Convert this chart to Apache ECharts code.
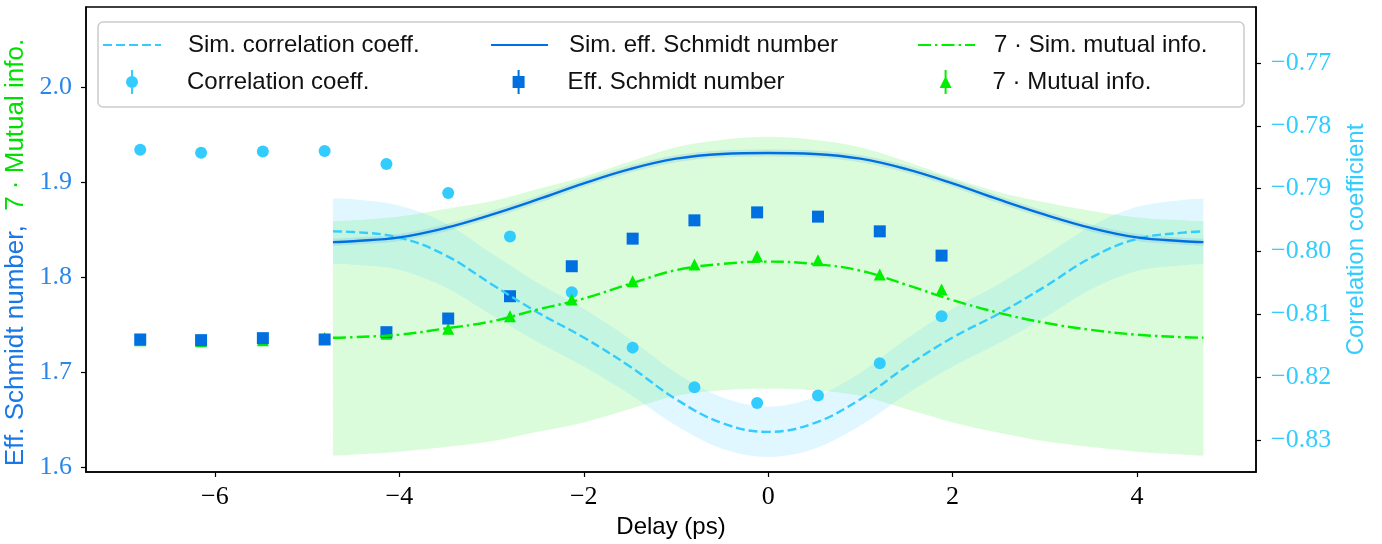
<!DOCTYPE html>
<html>
<head>
<meta charset="utf-8">
<script src="https://cdn.jsdelivr.net/npm/echarts@6/dist/echarts.min.js"></script>
<style>
  html, body { margin: 0; padding: 0; background: #fff; }
  #chart { width: 1382px; height: 544px; }
</style>
</head>
<body>
<div id="chart"></div>
<script>
// simulated curves (delay in ps)
var simX = [-4.72, -4.5, -4, -3.5, -3, -2.5, -2, -1.5, -1, -0.5, 0, 0.5, 1, 1.5, 2, 2.5, 3, 3.5, 4, 4.5, 4.72];
var simSchmidt = [1.837, 1.838, 1.842, 1.852, 1.866, 1.882, 1.899, 1.914, 1.925, 1.930, 1.931, 1.930, 1.925, 1.914, 1.899, 1.882, 1.866, 1.852, 1.842, 1.838, 1.837];
var simCorr = [-0.7968, -0.7969, -0.7978, -0.8006, -0.8052, -0.8097, -0.8137, -0.8183, -0.8235, -0.8273, -0.8287, -0.8273, -0.8235, -0.8183, -0.8137, -0.8099, -0.8056, -0.8010, -0.7980, -0.7970, -0.7968];
var simMutual = [1.7362, 1.7368, 1.7395, 1.7460, 1.7535, 1.7660, 1.7775, 1.7930, 1.8075, 1.8140, 1.8165, 1.8140, 1.8070, 1.7920, 1.7760, 1.7625, 1.7520, 1.7445, 1.7394, 1.7368, 1.7362];
// shaded uncertainty bands
var mutualHi = [1.859, 1.860, 1.864, 1.872, 1.880, 1.893, 1.906, 1.922, 1.937, 1.945, 1.948, 1.945, 1.937, 1.922, 1.905, 1.890, 1.879, 1.870, 1.863, 1.860, 1.859];
var mutualLo = [1.612, 1.613, 1.616, 1.621, 1.627, 1.637, 1.647, 1.661, 1.675, 1.681, 1.6825, 1.681, 1.675, 1.661, 1.647, 1.636, 1.627, 1.621, 1.616, 1.613, 1.612];
var corrHi = [-0.7916, -0.7917, -0.7927, -0.7955, -0.8003, -0.8050, -0.8091, -0.8139, -0.8193, -0.8232, -0.8247, -0.8232, -0.8193, -0.8139, -0.8091, -0.8052, -0.8007, -0.7960, -0.7929, -0.7918, -0.7916];
var corrLo = [-0.8020, -0.8021, -0.8029, -0.8057, -0.8101, -0.8144, -0.8183, -0.8227, -0.8277, -0.8314, -0.8327, -0.8314, -0.8277, -0.8227, -0.8183, -0.8146, -0.8105, -0.8060, -0.8031, -0.8022, -0.8020];

// measured points
var measX = [-6.81, -6.15, -5.48, -4.81, -4.14, -3.47, -2.80, -2.13, -1.47, -0.80, -0.12, 0.54, 1.21, 1.88];
var corrMeas = [-0.7838, -0.7843, -0.7841, -0.7840, -0.7861, -0.7907, -0.7976, -0.8065, -0.8153, -0.8216, -0.8241, -0.8229, -0.8178, -0.8103];
var schmidtMeas = [1.7344, 1.7337, 1.7358, 1.7344, 1.7421, 1.7565, 1.7800, 1.8116, 1.8407, 1.8600, 1.8684, 1.8639, 1.8484, 1.8228];
var mutualMeas = [1.7335, 1.7325, 1.7335, 1.7360, 1.7405, 1.7457, 1.7589, 1.7765, 1.7958, 1.8134, 1.8221, 1.8179, 1.8028, 1.7871];

// ticks
var xTicks = [-6, -4, -2, 0, 2, 4];
var leftTicks = [1.6, 1.7, 1.8, 1.9, 2.0];
var rightTicks = [-0.83, -0.82, -0.81, -0.80, -0.79, -0.78, -0.77];

var cCorr = '#33ccff', cSchmidt = '#0070e0', cMutual = '#00ee00';
var serif = 'Liberation Serif', sans = 'Liberation Sans';

function pairs(xs, ys) {
  return xs.map(function (x, i) { return [x, ys[i]]; });
}
function fmt(v, d) {
  return (v < 0 ? '\u2212' : '') + Math.abs(v).toFixed(d);
}

// smooth curve through pixel points (catmull-rom as bezier)
function curvePath(p, first) {
  var s = (first ? 'M' : 'L') + p[0][0] + ' ' + p[0][1];
  for (var i = 0; i < p.length - 1; i++) {
    var a = p[i - 1] || p[i], b = p[i], c = p[i + 1], d = p[i + 2] || c;
    s += 'C' + (b[0] + (c[0] - a[0]) / 6) + ' ' + (b[1] + (c[1] - a[1]) / 6) + ' ' +
      (c[0] - (d[0] - b[0]) / 6) + ' ' + (c[1] - (d[1] - b[1]) / 6) + ' ' + c[0] + ' ' + c[1];
  }
  return s;
}
// fill_between
function band(yIdx, lo, hi, color) {
  return {
    type: 'custom', yAxisIndex: yIdx, silent: true, data: [0],
    renderItem: function (params, api) {
      var top = simX.map(function (x, i) { return api.coord([x, hi[i]]); });
      var bot = simX.map(function (x, i) { return api.coord([x, lo[i]]); }).reverse();
      return {
        type: 'path',
        shape: { pathData: curvePath(top, true) + curvePath(bot, false) + 'Z' },
        style: { fill: color }
      };
    }
  };
}

var errCircle = 'path://M5 0h2v24h-2z M0 12a6 6 0 1 1 12 0a6 6 0 1 1 -12 0z';
var errSquare = 'path://M5 0h2v24h-2z M0 6h12v12h-12z';
var errTri = 'path://M5 0h2v24h-2z M6 6L12 18L0 18z';

function legendItem(name, left, top, w, h, pad, icon) {
  var d = { name: name };
  if (icon) d.icon = icon;
  var l = {
    data: [d], left: left, top: top, padding: 0, itemWidth: w, itemHeight: h,
    selectedMode: false,
    textStyle: { fontFamily: sans, fontSize: 24, color: '#111', padding: [0, 0, 0, pad] }
  };
  // line handles: hide the symbol drawn in the middle
  if (!icon) l.itemStyle = { color: 'rgba(0,0,0,0)', borderWidth: 0, opacity: 0 };
  return l;
}

var chart = echarts.init(document.getElementById('chart'));
var option = {
  animation: false,
  grid: { left: 86, right: 126, top: 7, bottom: 72, outerBoundsMode: 'none',
    show: true, borderColor: '#000', borderWidth: 1.5 },
  xAxis: {
    type: 'value', min: -7.398, max: 5.29,
    name: 'Delay (ps)', nameLocation: 'middle', nameGap: 38,
    nameTextStyle: { fontFamily: sans, fontSize: 24, color: '#000' },
    axisLine: { show: true, onZero: false, lineStyle: { color: '#000', width: 1.5 } },
    axisTick: { show: true, length: 5, customValues: xTicks, lineStyle: { color: '#000', width: 1.2 } },
    axisLabel: { customValues: xTicks, margin: 12, fontFamily: serif, fontSize: 26, color: '#000',
      formatter: function (v) { return fmt(v, 0); } },
    splitLine: { show: false }
  },
  yAxis: [{
    type: 'value', min: 1.5947, max: 2.0849, position: 'left',
    name: '{a|Eff. Schmidt number,}  {b|7 \u00b7 Mutual info.}',
    nameLocation: 'middle', nameRotate: 90, nameGap: 50,
    nameTextStyle: {
      fontFamily: sans, fontSize: 26, padding: [0, 26, 0, 0],
      rich: {
        a: { fontFamily: sans, fontSize: 26, color: '#1a78e6' },
        b: { fontFamily: sans, fontSize: 26, color: '#00e000' }
      }
    },
    axisLine: { show: true, onZero: false, lineStyle: { color: '#000', width: 1.5 } },
    axisTick: { show: true, length: 5, customValues: leftTicks, lineStyle: { color: '#000', width: 1.2 } },
    axisLabel: { customValues: leftTicks, margin: 14, fontFamily: serif, fontSize: 26, color: '#2a86ea',
      formatter: function (v) { return fmt(v, 1); } },
    splitLine: { show: false }
  }, {
    type: 'value', min: -0.83509, max: -0.76110, position: 'right',
    name: 'Correlation coefficient', nameLocation: 'middle', nameRotate: 90, nameGap: 88,
    nameTextStyle: { fontFamily: sans, fontSize: 24, color: cCorr },
    axisLine: { show: true, onZero: false, lineStyle: { color: '#000', width: 1.5 } },
    axisTick: { show: true, length: 5, customValues: rightTicks, lineStyle: { color: '#000', width: 1.2 } },
    axisLabel: { customValues: rightTicks, margin: 15, fontFamily: serif, fontSize: 26, color: cCorr,
      formatter: function (v) { return fmt(v, 2); } },
    splitLine: { show: false }
  }],
  legend: [
    legendItem('Sim. correlation coeff.', 102, 33, 58, 14, 22),
    legendItem('Correlation coeff.', 126, 70, 12, 24, 44, errCircle),
    legendItem('Sim. eff. Schmidt number', 490, 33, 57, 14, 16),
    legendItem('Eff. Schmidt number', 512.6, 70, 12, 24, 38, errSquare),
    legendItem('7 \u00b7 Sim. mutual info.', 917, 33, 57, 14, 14),
    legendItem('7 \u00b7 Mutual info.', 939.6, 70, 12, 24, 36, errTri)
  ],
  graphic: [{
    type: 'rect', z: 1, silent: true,
    shape: { x: 98, y: 22, width: 1146, height: 85, r: 5 },
    style: { fill: 'rgba(255,255,255,0.8)', stroke: '#cccccc', lineWidth: 1.5 }
  }],
  series: [
    band(0, mutualLo, mutualHi, 'rgba(0,235,0,0.14)'),
    band(1, corrLo, corrHi, 'rgba(51,204,255,0.15)'),
    {
      type: 'line', name: 'schmidtHalo', yAxisIndex: 0, data: pairs(simX, simSchmidt),
      symbol: 'none', smooth: 0.4, silent: true,
      lineStyle: { color: cSchmidt, width: 7, opacity: 0.12 }
    }, {
      type: 'line', name: 'Sim. correlation coeff.', yAxisIndex: 1, data: pairs(simX, simCorr),
      symbol: 'none', smooth: 0.4, color: cCorr,
      lineStyle: { color: cCorr, width: 2.4, type: [9, 4] }
    }, {
      type: 'line', name: 'Sim. eff. Schmidt number', yAxisIndex: 0, data: pairs(simX, simSchmidt),
      symbol: 'none', smooth: 0.4, color: cSchmidt,
      lineStyle: { color: cSchmidt, width: 2.4 }
    }, {
      type: 'line', name: '7 \u00b7 Sim. mutual info.', yAxisIndex: 0, data: pairs(simX, simMutual),
      symbol: 'none', smooth: 0.4, color: cMutual,
      lineStyle: { color: cMutual, width: 2.4, type: [13, 4, 2.5, 4] }
    }, {
      type: 'scatter', name: 'Correlation coeff.', yAxisIndex: 1, data: pairs(measX, corrMeas),
      symbol: 'circle', symbolSize: 12, itemStyle: { color: cCorr, opacity: 1 }
    }, {
      type: 'scatter', name: '7 \u00b7 Mutual info.', yAxisIndex: 0, data: pairs(measX, mutualMeas),
      symbol: 'triangle', symbolSize: 12, itemStyle: { color: cMutual, opacity: 1 }
    }, {
      type: 'scatter', name: 'Eff. Schmidt number', yAxisIndex: 0, data: pairs(measX, schmidtMeas),
      symbol: 'rect', symbolSize: 12, itemStyle: { color: cSchmidt, opacity: 1 }
    }
  ]
};
chart.setOption(option);
window.addEventListener('resize', function () { chart.resize(); });
</script>
</body>
</html>
